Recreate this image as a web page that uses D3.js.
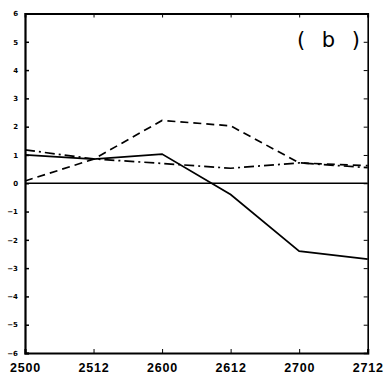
<!DOCTYPE html>
<html>
<head>
<meta charset="utf-8">
<script src="https://cdn.jsdelivr.net/npm/d3@7"></script>
<style>
  html, body { margin: 0; padding: 0; background: #fff; }
  svg { display: block; }
</style>
</head>
<body>
<div id="chart"></div>
<script>
// categories along the x axis
const categories = ['2500', '2512', '2600', '2612', '2700', '2712'];
// series values
const solidSeries = [1.0, 0.85, 1.03, -0.4, -2.4, -2.68];
const dashedSeries = [0.08, 0.85, 2.22, 2.03, 0.72, 0.62];
const dashDotSeries = [1.18, 0.86, 0.7, 0.53, 0.72, 0.55];
const yTicks = [-6, -5, -4, -3, -2, -1, 0, 1, 2, 3, 4, 5, 6];
const panelLabel = '( b )';

const width = 390, height = 383;
const margin = {top: 13.5, right: 22.3, bottom: 30, left: 25};

const svg = d3.select('#chart').append('svg')
  .attr('width', width)
  .attr('height', height);

const x = d3.scalePoint()
  .domain(categories)
  .range([margin.left, width - margin.right]);

const y = d3.scaleLinear()
  .domain([-6, 6])
  .range([height - margin.bottom, margin.top]);

const g = svg.append('g');

// zero reference line
g.append('line')
  .attr('x1', x.range()[0]).attr('x2', x.range()[1])
  .attr('y1', y(0)).attr('y2', y(0))
  .attr('stroke', '#000').attr('stroke-width', 1.4);

const line = d3.line()
  .x((d, i) => x(categories[i]))
  .y(d => y(d));

const series = [
  {values: solidSeries, dash: null},
  {values: dashedSeries, dash: '8,5'},
  {values: dashDotSeries, dash: '10,4,2,4'}
];

series.forEach(s => {
  g.append('path')
    .datum(s.values)
    .attr('d', line)
    .attr('fill', 'none')
    .attr('stroke', '#000')
    .attr('stroke-width', 1.7)
    .attr('stroke-dasharray', s.dash);
});

const x0 = x.range()[0], x1 = x.range()[1];
const yb = y(-6), yt = y(6);

// left axis with labels
g.append('g')
  .attr('transform', `translate(${x0},0)`)
  .call(d3.axisLeft(y).tickValues(yTicks).tickSize(-4).tickPadding(7).tickFormat(d3.format('d')))
  .call(a => a.select('.domain').attr('stroke-width', 2.2))
  .call(a => a.selectAll('.tick line').attr('stroke-width', 1.5))
  .call(a => a.selectAll('text')
    .attr('font-family', 'DejaVu Sans, sans-serif')
    .attr('font-weight', 'bold')
    .attr('font-size', 7)
    .attr('fill', '#000'));

// right axis, ticks only
g.append('g')
  .attr('transform', `translate(${x1},0)`)
  .call(d3.axisRight(y).tickValues(yTicks).tickSize(-4).tickFormat(''))
  .call(a => a.select('.domain').attr('stroke-width', 1.6));

// bottom axis with labels
g.append('g')
  .attr('transform', `translate(0,${yb})`)
  .call(d3.axisBottom(x).tickSize(-4).tickPadding(10))
  .call(a => a.select('.domain').attr('stroke-width', 2.2))
  .call(a => a.selectAll('text')
    .attr('font-family', 'Liberation Sans, Arial, sans-serif')
    .attr('font-weight', 'bold')
    .attr('font-size', 12.5)
    .attr('letter-spacing', 0.8)
    .attr('fill', '#000'));

// top axis, ticks only
g.append('g')
  .attr('transform', `translate(0,${yt})`)
  .call(d3.axisTop(x).tickSize(-4).tickFormat(''))
  .call(a => a.select('.domain').attr('stroke-width', 1.8));

// panel label
svg.append('text')
  .attr('x', 331)
  .attr('y', 47)
  .attr('text-anchor', 'middle')
  .attr('font-family', 'DejaVu Sans, sans-serif')
  .attr('font-size', 21)
  .attr('letter-spacing', 5)
  .text(panelLabel);
</script>
</body>
</html>
